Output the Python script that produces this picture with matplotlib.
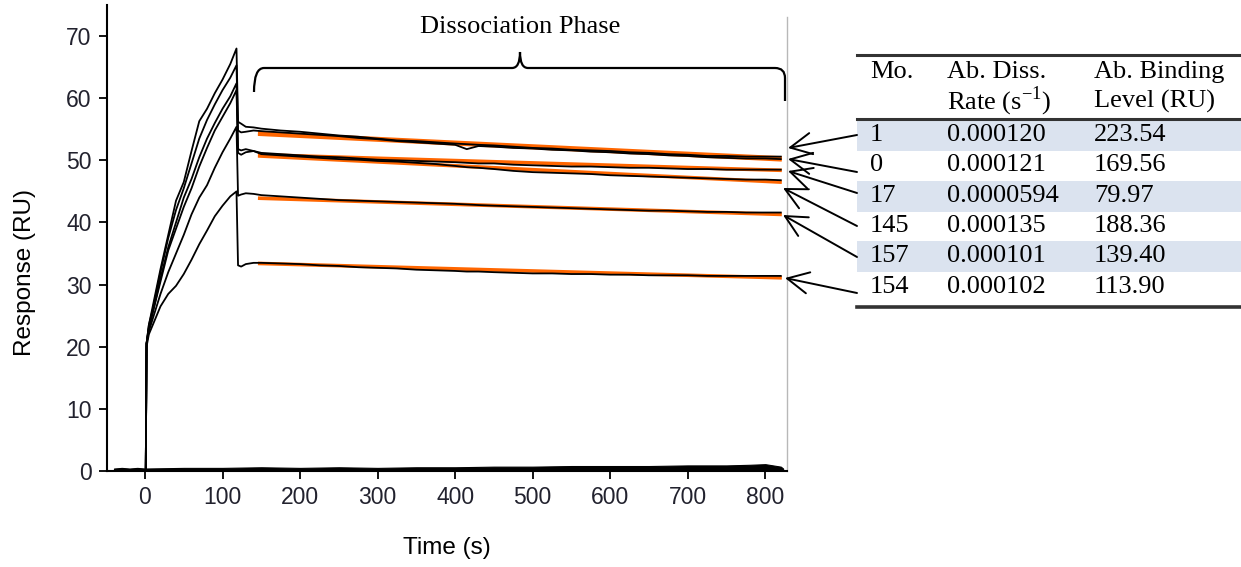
import numpy as np
import matplotlib.pyplot as plt
from matplotlib.lines import Line2D
from matplotlib.patches import Rectangle, FancyArrowPatch, PathPatch
from matplotlib.path import Path

plt.rcParams['font.family'] = ['Liberation Sans', 'DejaVu Sans']
plt.rcParams['mathtext.fontset'] = 'custom'
plt.rcParams['mathtext.rm'] = 'Liberation Serif'

# association phase (s) and response (RU) for the six curves
t_assoc = [1, 2, 5, 10, 20, 30, 40, 50, 60, 70, 80, 90, 100, 110, 118]
assoc = [
    [0.3, 20.5, 23.5, 26.5, 32.5, 38.0, 43.5, 46.5, 51.5, 56.3, 58.3, 60.8, 63.0, 65.5, 68.0],
    [0.3, 20.5, 23.5, 26.0, 32.0, 37.5, 42.0, 45.5, 49.5, 53.5, 56.5, 59.0, 61.3, 63.3, 65.3],
    [0.3, 20.5, 23.0, 25.5, 31.0, 36.0, 40.0, 44.0, 47.0, 50.5, 53.5, 56.0, 58.3, 60.3, 62.4],
    [0.3, 20.5, 23.0, 25.5, 30.5, 35.5, 39.0, 42.5, 45.5, 49.0, 52.0, 54.8, 57.0, 59.2, 61.3],
    [0.3, 20.5, 22.5, 24.5, 28.5, 32.0, 35.0, 38.0, 41.3, 44.0, 46.0, 48.8, 51.3, 53.5, 55.4],
    [0.3, 20.0, 22.0, 23.5, 26.5, 28.5, 29.8, 31.7, 34.0, 36.5, 38.7, 41.0, 42.7, 44.2, 45.0],
]

# dissociation phase
t_diss = [120, 124, 130, 140, 150, 175, 200, 225, 250, 275, 300, 325, 350, 375, 400, 415,
          430, 450, 475, 500, 525, 550, 575, 600, 625, 650, 675, 700, 725, 750, 775, 800, 820]
diss = [
    [56.2, 55.9, 55.4, 55.3, 55.1, 54.8, 54.6, 54.3, 54.0, 53.8, 53.5, 53.2, 53.1, 52.9, 52.7, 52.6,
     52.5, 52.4, 52.2, 52.0, 51.9, 51.7, 51.6, 51.5, 51.3, 51.2, 51.0, 50.9, 50.7, 50.7, 50.6, 50.6, 50.6],
    [54.8, 54.5, 54.6, 54.8, 54.7, 54.5, 54.3, 54.1, 53.9, 53.6, 53.4, 53.1, 52.9, 52.7, 52.5, 51.8,
     52.3, 52.2, 52.0, 51.9, 51.7, 51.6, 51.4, 51.3, 51.1, 51.0, 50.8, 50.7, 50.5, 50.4, 50.3, 50.3, 50.2],
    [51.8, 51.6, 51.8, 51.5, 51.2, 51.0, 50.8, 50.6, 50.5, 50.3, 50.1, 50.0, 49.9, 49.8, 49.7, 49.6,
     49.5, 49.5, 49.3, 49.2, 49.1, 49.0, 49.0, 48.9, 48.8, 48.8, 48.7, 48.6, 48.6, 48.5, 48.5, 48.5, 48.5],
    [51.2, 50.9, 51.3, 51.5, 51.0, 50.8, 50.6, 50.4, 50.2, 50.1, 49.9, 49.8, 49.6, 49.4, 49.1, 48.9,
     48.8, 48.6, 48.3, 48.1, 48.0, 47.9, 47.8, 47.6, 47.5, 47.4, 47.3, 47.2, 47.1, 47.0, 46.9, 46.9, 46.8],
    [44.3, 44.5, 44.7, 44.6, 44.4, 44.2, 44.0, 43.8, 43.6, 43.5, 43.4, 43.3, 43.2, 43.1, 43.0, 42.9,
     42.8, 42.7, 42.6, 42.5, 42.4, 42.3, 42.2, 42.1, 42.0, 41.9, 41.9, 41.8, 41.7, 41.7, 41.6, 41.6, 41.6],
    [33.1, 32.9, 33.3, 33.5, 33.5, 33.4, 33.3, 33.1, 33.0, 32.8, 32.7, 32.6, 32.4, 32.3, 32.2, 32.1,
     32.1, 32.0, 31.9, 31.8, 31.8, 31.7, 31.7, 31.6, 31.6, 31.5, 31.5, 31.5, 31.4, 31.4, 31.4, 31.4, 31.4],
]

# fitted dissociation lines (orange)
fit_t = [148, 819]
fits = [[54.4, 50.4], [54.2, 50.1], [50.9, 48.4], [50.7, 46.5], [43.9, 41.3], [33.4, 31.1]]

# blank / reference trace near zero
t_base = [-40, -30, -20, -10, 0, 50, 100, 150, 200, 250, 300, 350, 400, 450, 500,
          550, 600, 650, 700, 750, 780, 800, 810, 820, 823]
base = [0.4, 0.5, 0.4, 0.5, 0.4, 0.5, 0.5, 0.6, 0.5, 0.6, 0.5, 0.6, 0.6, 0.7, 0.7,
        0.8, 0.8, 0.8, 0.9, 0.9, 1.0, 1.1, 0.9, 0.7, 0.4]

# table
tab_head1 = ['Mo.', 'Ab. Diss.', 'Ab. Binding']
tab_head2 = ['', 'Rate (s$^{\\mathrm{-1}}$)', 'Level (RU)']
tab_mo = ['1', '0', '17', '145', '157', '154']
tab_rate = ['0.000120', '0.000121', '0.0000594', '0.000135', '0.000101', '0.000102']
tab_level = ['223.54', '169.56', '79.97', '188.36', '139.40', '113.90']

W, H = 1241, 567
fx = lambda px: px / W
fy = lambda py: 1 - py / H

fig = plt.figure(figsize=(W / 100, H / 100), dpi=100)
ax = fig.add_axes([fx(107), fy(471), (787 - 107) / W, (471 - 5) / H])

ax.fill_between(t_base, 0, base, color='black', lw=0.8)
for a, d in zip(assoc, diss):
    ax.plot(t_assoc + t_diss, a + d, color='black', lw=1.3, zorder=3)
for f in fits:
    ax.plot(fit_t, f, color='#ff6600', lw=2.6, zorder=2)

ax.plot([828, 828], [0, 73], color='#b8b8b8', lw=1, clip_on=False)

ax.set_xlim(-49, 828)
ax.set_ylim(0, 75)
ax.set_xticks(range(0, 801, 100))
ax.set_yticks(range(0, 71, 10))
for s in ['top', 'right']:
    ax.spines[s].set_visible(False)
for s in ['left', 'bottom']:
    ax.spines[s].set_linewidth(1.5)
ax.tick_params(direction='out', length=6, width=1.3, labelsize=16.5, labelcolor='#22222e', pad=5)
ax.set_xlabel('Time (s)', fontsize=17.5, va='center')
ax.set_ylabel('Response (RU)', fontsize=17.5, va='center')
ax.xaxis.set_label_coords(0.5, (471 - 548) / 466)
ax.yaxis.set_label_coords((25 - 107) / 680, (471 - 272) / 466)

serif = ['Liberation Serif', 'DejaVu Serif']
fig.text(fx(520), fy(33), 'Dissociation Phase', ha='center', va='baseline',
         family=serif, fontsize=19)

# brace over the dissociation phase
bp = [(254, 92), (254, 68), (264, 68), (512, 68), (520, 68), (520, 52),
      (520, 68), (528, 68), (775, 68), (785, 68), (785, 78), (785, 101)]
codes = [Path.MOVETO, Path.CURVE3, Path.CURVE3, Path.LINETO, Path.CURVE3, Path.CURVE3,
         Path.CURVE3, Path.CURVE3, Path.LINETO, Path.CURVE3, Path.CURVE3, Path.LINETO]
brace = Path([(fx(x), fy(y)) for x, y in bp], codes)
fig.add_artist(PathPatch(brace, transform=fig.transFigure, fill=False, lw=1.6, color='black'))

# table
row_top = [120, 150, 181, 211, 241, 272]
row_h = 30.5
for i, rt in enumerate(row_top):
    if i % 2 == 0:
        fig.add_artist(Rectangle((fx(857), fy(rt + row_h)), fx(1241) - fx(857), row_h / H,
                                 transform=fig.transFigure, color='#dbe3ef', lw=0))
for yy, lw in [(55, 2.2), (119, 2.2), (307, 2.6)]:
    fig.add_artist(Line2D([fx(857), fx(1241)], [fy(yy), fy(yy)], color='#333333', lw=lw,
                          transform=fig.transFigure))
col_x = [870, 947, 1094]
for cx, h1, h2 in zip(col_x, tab_head1, tab_head2):
    fig.text(fx(cx), fy(72), h1, family=serif, fontsize=19, va='center', ha='left')
    fig.text(fx(cx), fy(101), h2, family=serif, fontsize=19, va='center', ha='left')
for i, rt in enumerate(row_top):
    yc = rt + row_h / 2
    for cx, txt in zip(col_x, [tab_mo[i], tab_rate[i], tab_level[i]]):
        fig.text(fx(cx), fy(yc), txt, family=serif, fontsize=19, va='center', ha='left')

# arrows from table rows to curves
tails = [(857, 135), (857, 172), (857, 193), (857, 226), (857, 257), (857, 293)]
heads = [(788, 148), (788, 159), (788, 171), (783, 188), (783, 215), (785, 278)]
for (x0, y0), (x1, y1) in zip(tails, heads):
    fig.add_artist(FancyArrowPatch((fx(x0), fy(y0)), (fx(x1), fy(y1)), transform=fig.transFigure,
                                   arrowstyle='->,head_length=0.7,head_width=0.35',
                                   mutation_scale=22, lw=1.4, color='black',
                                   shrinkA=0, shrinkB=0))

fig.savefig('out.png', dpi=100)
